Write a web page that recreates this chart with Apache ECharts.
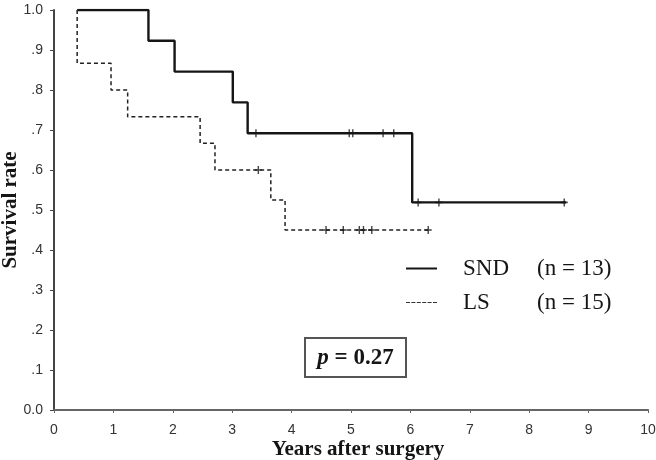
<!DOCTYPE html>
<html>
<head>
<meta charset="utf-8">
<script src="https://cdn.jsdelivr.net/npm/echarts@6/dist/echarts.min.js"></script>
<style>
  html, body { margin: 0; padding: 0; background: #fff; }
  #container { width: 656px; height: 460px; }
</style>
</head>
<body>
<div id="container"></div>
<script>
// Kaplan-Meier steps: [years, survival]
const sndSteps = [
  [0.39, 1], [1.59, 0.923], [2.03, 0.846], [3.01, 0.769],
  [3.26, 0.692], [6.03, 0.519], [8.62, 0.519]
];
const lsSteps = [
  [0.39, 1], [0.39, 0.867], [0.96, 0.8], [1.24, 0.733], [2.46, 0.667],
  [2.71, 0.6], [3.65, 0.525], [3.89, 0.45], [6.30, 0.45]
];
// censored cases (+ marks)
const sndCensored = [
  [3.40, 0.692], [4.97, 0.692], [5.03, 0.692], [5.54, 0.692], [5.72, 0.692],
  [6.13, 0.519], [6.48, 0.519], [8.59, 0.519]
];
const lsCensored = [
  [3.44, 0.6], [4.58, 0.45], [4.87, 0.45], [5.14, 0.45], [5.21, 0.45],
  [5.35, 0.45], [6.30, 0.45]
];
const groupNames = ['SND', 'LS'];
const groupCounts = [13, 15];
const pValue = '0.27';

const ink = '#151515';
const plusMark = 'path://M4,0H6V4H10V6H6V10H4V6H0V4H4Z';
// legend keys: a solid bar and a row of short dashes
const solidKey = 'path://M0,0H31V2H0Z';
const dashKey = 'path://M0,0H4V1H0ZM5.4,0H9.4V1H5.4ZM10.8,0H14.8V1H10.8ZM16.2,0H20.2V1H16.2ZM21.6,0H25.6V1H21.6ZM27,0H31V1H27Z';
const serif = 'Liberation Serif';
const sans = 'Liberation Sans';

let myChart = echarts.init(document.getElementById('container'), null, { renderer: 'canvas' });

let option = {
  animation: false,
  grid: { left: 54, right: 8, top: 10, bottom: 50, outerBoundsMode: 'none' },
  legend: {
    data: [
      { name: groupNames[0], icon: solidKey, itemStyle: { color: ink } },
      { name: groupNames[1], icon: dashKey, itemStyle: { color: '#333' } }
    ],
    orient: 'vertical',
    left: 406,
    top: 256,
    padding: 0,
    itemWidth: 31,
    itemHeight: 2,
    itemGap: 9,
    formatter: function (name) {
      const i = groupNames.indexOf(name);
      return '{a|' + name + '}{b|(n = ' + groupCounts[i] + ')}';
    },
    textStyle: {
      color: ink,
      fontFamily: serif,
      fontSize: 23,
      lineHeight: 25,
      rich: {
        a: { fontFamily: serif, fontSize: 23, color: ink, width: 74, padding: [0, 0, 0, 21] },
        b: { fontFamily: serif, fontSize: 23, color: ink }
      }
    }
  },
  xAxis: {
    type: 'value',
    min: 0,
    max: 10,
    interval: 1,
    name: 'Years after surgery',
    nameLocation: 'middle',
    nameGap: 29,
    nameMoveOverlap: false,
    nameTextStyle: {
      fontFamily: serif, fontWeight: 'bold', fontSize: 21, color: ink,
      padding: [0, 0, 0, 14]
    },
    axisLine: { lineStyle: { color: '#666', width: 2 } },
    axisTick: { length: 3, lineStyle: { color: '#666' } },
    axisLabel: { fontFamily: sans, fontSize: 14, color: '#333', margin: 13 },
    splitLine: { show: false }
  },
  yAxis: {
    type: 'value',
    min: 0,
    max: 1,
    interval: 0.1,
    name: 'Survival rate',
    nameLocation: 'middle',
    nameRotate: 90,
    nameGap: 33,
    nameMoveOverlap: false,
    nameTextStyle: { fontFamily: serif, fontWeight: 'bold', fontSize: 21, color: ink },
    axisLine: { show: true, lineStyle: { color: '#444', width: 2 } },
    axisTick: { show: true, length: 4, lineStyle: { color: '#444' } },
    axisLabel: {
      fontFamily: sans, fontSize: 14, color: '#333', margin: 11,
      formatter: function (v) {
        const d = Math.round(v * 10);
        if (d === 0) return '0.0';
        if (d === 10) return '1.0';
        return '.' + d;
      }
    },
    splitLine: { show: false }
  },
  series: [
    {
      name: 'SND',
      type: 'line',
      step: 'end',
      symbol: 'none',
      data: sndSteps,
      lineStyle: { color: ink, width: 2.4 },
      itemStyle: { color: ink },
      z: 3
    },
    {
      name: 'LS',
      type: 'line',
      step: 'end',
      symbol: 'none',
      data: lsSteps,
      lineStyle: { color: '#222', width: 1.5, type: [4, 3] },
      itemStyle: { color: ink },
      z: 3
    },
    {
      name: 'SND censored',
      type: 'scatter',
      symbol: plusMark,
      symbolSize: [7, 8],
      data: sndCensored,
      itemStyle: { color: ink },
      z: 4
    },
    {
      name: 'LS censored',
      type: 'scatter',
      symbol: plusMark,
      symbolSize: [7, 8],
      data: lsCensored,
      itemStyle: { color: ink },
      z: 4
    }
  ],
  graphic: [
    {
      type: 'group',
      left: 304,
      top: 337,
      children: [
        {
          type: 'rect',
          shape: { x: 0, y: 0, width: 101, height: 39 },
          style: { fill: '#fff', stroke: '#555', lineWidth: 2 }
        },
        {
          type: 'text',
          x: 50.5,
          y: 20,
          style: {
            text: '{i|p} = ' + pValue,
            font: 'bold 23px "Liberation Serif"',
            fill: ink,
            align: 'center',
            verticalAlign: 'middle',
            rich: {
              i: { fontStyle: 'italic', fontWeight: 'bold', fontSize: 23, fontFamily: serif, fill: ink }
            }
          }
        }
      ]
    }
  ]
};
myChart.setOption(option);
</script>
</body>
</html>
